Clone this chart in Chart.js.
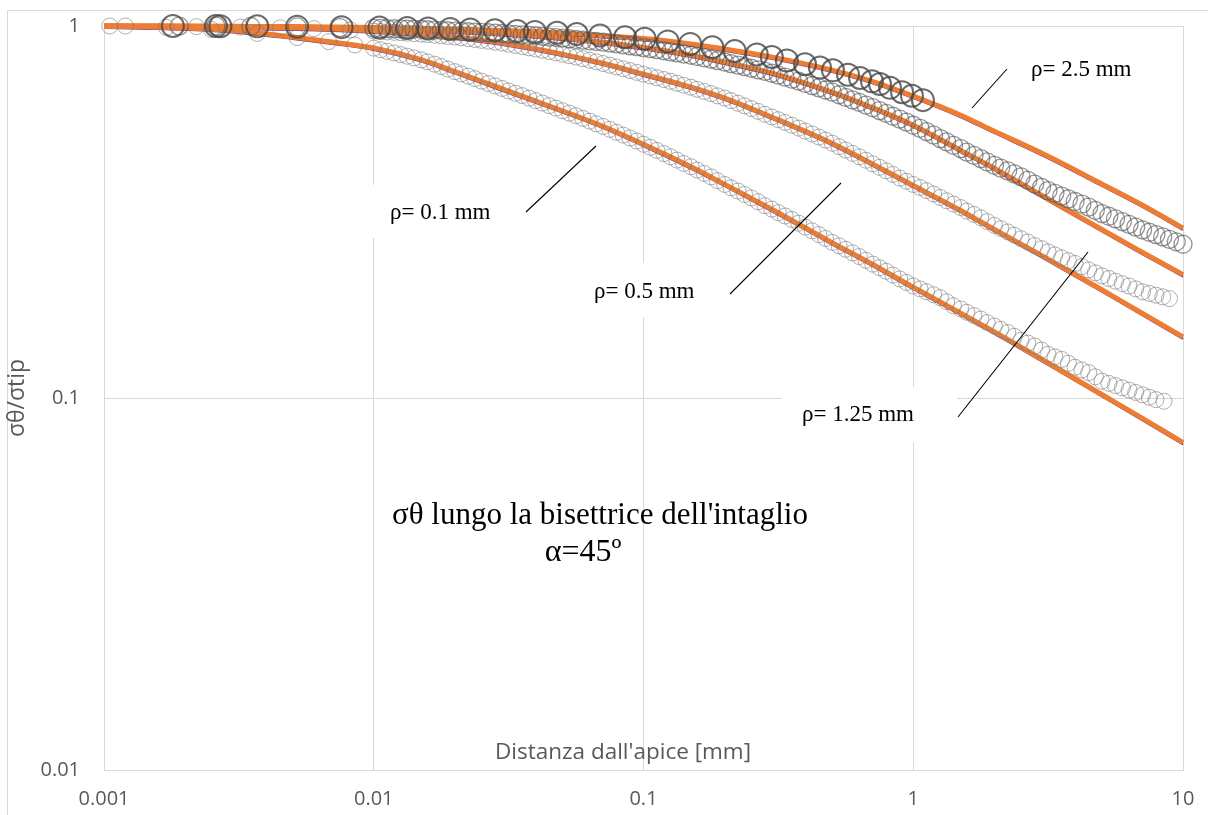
<!DOCTYPE html>
<html>
<head>
<meta charset="utf-8">
<script src="https://cdn.jsdelivr.net/npm/chart.js@4.4.1/dist/chart.umd.min.js"></script>
<style>
  html, body { margin: 0; padding: 0; background: #ffffff; }
  #wrap { position: relative; width: 1208px; height: 815px; }
  canvas { display: block; }
</style>
</head>
<body>
<div id="wrap"><canvas id="c" width="1208" height="815"></canvas></div>
<script>
// ---------------- DATA ----------------
const xTickValues = [0.001, 0.01, 0.1, 1, 10];
const xTickLabels = ['0.001', '0.01', '0.1', '1', '10'];
const yTickValues = [0.01, 0.1, 1];
const yTickLabels = ['0.01', '0.1', '1'];

const xAxisTitle = "Distanza dall'apice [mm]";
const yAxisTitle = 'σθ/σtip';
const titleLines = ["σθ lungo la bisettrice dell'intaglio", 'α=45º'];
const seriesNames = ['ρ= 0.1 mm', 'ρ= 0.5 mm', 'ρ= 1.25 mm', 'ρ= 2.5 mm'];

// analytical curves (orange) and companion curves (purple)
const lineX = [0.001,0.0015,0.002,0.003,0.005,0.007,0.01,0.015,0.02,0.03,0.05,0.07,0.1,0.15,0.2,0.3,0.5,0.7,1,1.5,2,3,5,7,10];
const orange01  = [1.0,0.9938,0.9877,0.9725,0.934,0.9055,0.8723,0.8117,0.7541,0.6776,0.5918,0.539,0.4808,0.4182,0.3752,0.3211,0.2617,0.2297,0.1985,0.169,0.1506,0.127,0.1022,0.0886,0.0759];
const orange05  = [1.0,0.9988,0.9969,0.9938,0.9877,0.9816,0.9694,0.9516,0.934,0.9,0.8403,0.7951,0.7424,0.6847,0.6399,0.5685,0.4838,0.4272,0.3727,0.3192,0.2837,0.2414,0.1954,0.1695,0.146];
const orange125 = [1.0,0.9994,0.9988,0.9969,0.9938,0.9907,0.9858,0.9785,0.9694,0.9545,0.9282,0.9055,0.875,0.8352,0.7997,0.7468,0.664,0.6048,0.5411,0.4632,0.4144,0.3503,0.2837,0.2474,0.2146];
const orange25  = [1.0,1.0,0.9994,0.9981,0.9963,0.9938,0.9907,0.9858,0.9816,0.9725,0.9575,0.9428,0.9254,0.8944,0.8671,0.8249,0.7613,0.7108,0.6477,0.5755,0.5212,0.4546,0.3762,0.3313,0.2863];
const purple01  = [0.988,0.982,0.976,0.961,0.923,0.895,0.862,0.802,0.745,0.669,0.585,0.533,0.475,0.413,0.371,0.317,0.2586,0.2269,0.1961,0.167,0.1488,0.1255,0.101,0.0875,0.075];
const purple05  = [0.988,0.987,0.985,0.982,0.976,0.970,0.958,0.940,0.923,0.889,0.830,0.786,0.7335,0.6765,0.632,0.5617,0.478,0.422,0.3682,0.3154,0.2803,0.2385,0.1931,0.1675,0.1442];
const purple125 = [0.988,0.9874,0.9868,0.985,0.982,0.979,0.974,0.967,0.958,0.943,0.917,0.895,0.8645,0.825,0.790,0.738,0.656,0.5975,0.5346,0.4576,0.4094,0.3461,0.2803,0.2444,0.212];
const purple25  = [0.988,0.988,0.9874,0.986,0.984,0.982,0.979,0.974,0.970,0.961,0.946,0.9315,0.914,0.8837,0.8567,0.815,0.752,0.7023,0.640,0.5686,0.515,0.4491,0.3717,0.3273,0.2829];

// FEM results (hollow circles): node abscissae
const femXDense = [0.01,0.0112,0.0126,0.0141,0.0158,0.0178,0.02,0.0224,0.0251,0.0282,0.0316,0.0355,0.0398,0.0447,0.0501,0.0562,0.0631,0.0708,0.0794,0.0891,
  0.1,0.112,0.126,0.141,0.158,0.178,0.2,0.224,0.251,0.282,0.316,0.355,0.398,0.447,0.501,0.562,0.631,0.708,0.794,0.891,
  1,1.12,1.26,1.41,1.58,1.78,2,2.24,2.51,2.82,3.16,3.55,3.98,4.47,5.01,5.62,6.31,7.08,7.94,8.91,10];
const femXMid = [0.0106,0.0119,0.0133,0.015,0.0168,0.0188,0.0211,0.0237,0.0266,0.0299,0.0335,0.0376,0.0422,0.0473,0.0531,0.0596,0.0668,0.075,0.0841,0.0944,
  0.106,0.119,0.133,0.15,0.168,0.188,0.211,0.237,0.266,0.299,0.335,0.376,0.422,0.473,0.531,0.596,0.668,0.75,0.841,0.944,
  1.06,1.19,1.33,1.5,1.68,1.88,2.11,2.37,2.66,2.99,3.35,3.76,4.22,4.73,5.31,5.96,6.68,7.5,8.41,9.44];

// rho = 0.1 mm
const fem01XLeft = [0.00105,0.0017,0.0025,0.0037,0.0052,0.0068,0.0085];
const fem01XEnd  = [8.5];
const fem01Y = [1.0,0.992,0.979,0.955,0.931,0.908,0.889,
  0.872,0.855,0.838,0.821,0.801,0.778,0.754,0.733,0.711,0.690,0.669,0.650,0.630,0.611,0.592,0.574,0.555,0.537,0.518,0.500,
  0.481,0.463,0.445,0.427,0.410,0.393,0.375,0.360,0.345,0.329,0.315,0.302,0.288,0.275,0.262,0.251,0.240,0.229,0.219,0.209,
  0.200,0.193,0.186,0.177,0.170,0.163,0.156,0.150,0.143,0.138,0.131,0.127,0.121,0.117,0.111,0.108,0.105,0.102,0.099,
  0.098];
const fem01YMid = [0.8635,0.8465,0.8295,0.811,0.7895,0.766,0.7435,0.722,0.7005,0.6795,0.6595,0.640,0.6205,0.6015,0.583,0.5645,0.546,0.5275,0.509,0.4905,
  0.472,0.454,0.436,0.4185,0.4015,0.384,0.3675,0.3525,0.337,0.322,0.3085,0.295,0.2815,0.2685,0.2565,0.2455,0.2345,0.224,0.214,0.2045,
  0.1965,0.1895,0.1815,0.1735,0.1665,0.1595,0.153,0.1465,0.1405,0.1345,0.129,0.124,0.119,0.114,0.1095,0.1065,0.1035,0.1005];

// rho = 0.5 mm
const fem05XLeft = [0.0012,0.0022,0.0032,0.0045,0.006,0.0082];
const fem05Y = [1.0,0.996,0.993,0.989,0.984,0.976,
  0.969,0.964,0.959,0.954,0.948,0.941,0.934,0.925,0.915,0.905,0.894,0.880,0.867,0.854,0.840,0.825,0.809,0.793,0.776,0.759,
  0.742,0.726,0.710,0.693,0.676,0.658,0.640,0.620,0.600,0.579,0.560,0.541,0.522,0.503,0.484,0.464,0.445,0.426,0.408,0.390,
  0.375,0.361,0.346,0.332,0.318,0.305,0.291,0.2795,0.268,0.257,0.247,0.238,0.230,0.221,0.213,0.206,0.200,0.193,0.189,0.185];
const fem05YMid = [0.9665,0.9615,0.9565,0.951,0.9445,0.9375,0.9295,0.920,0.910,0.8995,0.887,0.8735,0.8605,0.847,0.8325,0.817,0.801,0.7845,0.7675,0.7505,
  0.734,0.718,0.7015,0.6845,0.667,0.649,0.630,0.610,0.5895,0.5695,0.5505,0.5315,0.5125,0.4935,0.474,0.4545,0.4355,0.417,0.399,0.3825,
  0.368,0.3535,0.339,0.325,0.3115,0.298,0.2853,0.2738,0.2625,0.252,0.2425,0.234,0.2255,0.217,0.2095,0.203,0.1965,0.191,0.187];

// rho = 1.25 mm
const fem125XLeft = [0.0019,0.0026,0.0035,0.0052,0.0075];
const fem125Y = [0.9993,0.999,0.997,0.994,0.99,
  0.986,0.984,0.982,0.980,0.977,0.973,0.969,0.965,0.961,0.957,0.952,0.946,0.940,0.934,0.928,0.920,0.9125,0.9045,0.895,0.885,
  0.875,0.864,0.852,0.841,0.828,0.814,0.800,0.785,0.770,0.755,0.738,0.720,0.701,0.682,0.664,0.643,0.623,0.603,0.582,0.562,
  0.541,0.520,0.498,0.4775,0.458,0.440,0.422,0.408,0.393,0.376,0.361,0.349,0.3375,0.326,0.313,0.303,0.293,0.283,0.275,0.267,0.259];
const fem125YMid = [0.985,0.983,0.981,0.9785,0.975,0.971,0.967,0.963,0.959,0.9545,0.949,0.943,0.937,0.931,0.924,0.916,0.9085,0.8998,0.890,0.880,
  0.8695,0.858,0.8465,0.8345,0.821,0.807,0.7925,0.7775,0.7625,0.7465,0.729,0.7105,0.6915,0.673,0.6535,0.633,0.613,0.5925,0.572,0.5515,
  0.5305,0.509,0.488,0.468,0.449,0.431,0.415,0.4005,0.3845,0.3685,0.355,0.343,0.332,0.3195,0.308,0.298,0.288,0.279,0.271,0.263];

// rho = 2.5 mm
const fem25X = [0.0018,0.0026,0.0027,0.0037,0.0052,0.0076,0.0105,0.0133,0.0159,0.0192,0.0228,0.0281,0.034,0.0396,0.0478,0.0566,0.069,0.0854,0.101,0.123,0.149,0.18,0.218,0.263,0.299,0.34,0.397,0.451,0.504,0.573,0.635,0.703,0.753,0.82,0.909,0.989,1.086];
const fem25Y = [1.0,0.9994,0.999,0.998,0.996,0.993,0.990,0.987,0.985,0.982,0.978,0.974,0.969,0.964,0.959,0.952,0.943,0.933,0.924,0.909,0.895,0.877,0.856,0.838,0.825,0.808,0.789,0.773,0.760,0.740,0.725,0.710,0.698,0.682,0.664,0.649,0.632];

// ---------------- BUILD ----------------
function pts(xs, ys) { return ys.map((y, i) => ({ x: xs[i], y: y })); }

const fem01Pts = pts(fem01XLeft.concat(femXDense.slice(0, 59), fem01XEnd), fem01Y).concat(pts(femXMid, fem01YMid));
const fem05Pts = pts(fem05XLeft.concat(femXDense.slice(0, 60)), fem05Y).concat(pts(femXMid, fem05YMid));
const fem125Pts = pts(fem125XLeft.concat(femXDense), fem125Y).concat(pts(femXMid, fem125YMid));
const fem25Pts = pts(fem25X, fem25Y);

function circles(label, data, r, color, w) {
  return { label, data, showLine: false, pointStyle: 'circle', pointRadius: r,
    pointBackgroundColor: 'rgba(0,0,0,0)', pointBorderColor: color, pointBorderWidth: w, clip: false };
}
function curve(label, ys, color, w) {
  return { label, data: pts(lineX, ys), showLine: true, borderColor: color, borderWidth: w,
    pointRadius: 0, cubicInterpolationMode: 'monotone', fill: false, clip: false };
}

const ORANGE = '#ED7D31', PURPLE = '#7030A0';
const datasets = [
  circles(seriesNames[3] + ' FEM', fem25Pts, 11, 'rgba(70,70,70,0.8)', 2),
  circles(seriesNames[2] + ' FEM', fem125Pts, 9, 'rgba(90,90,90,0.65)', 1.3),
  circles(seriesNames[1] + ' FEM', fem05Pts, 8, 'rgba(125,125,125,0.62)', 1),
  circles(seriesNames[0] + ' FEM', fem01Pts, 8, 'rgba(125,125,125,0.62)', 1),
  curve(seriesNames[3], orange25, ORANGE, 5),
  curve(seriesNames[2], orange125, ORANGE, 5),
  curve(seriesNames[1], orange05, ORANGE, 5),
  curve(seriesNames[0], orange01, ORANGE, 5),
  curve(seriesNames[3] + ' b', purple25, PURPLE, 2),
  curve(seriesNames[2] + ' b', purple125, PURPLE, 2),
  curve(seriesNames[1] + ' b', purple05, PURPLE, 2),
  curve(seriesNames[0] + ' b', purple01, PURPLE, 2)
];

// annotation layout (pixel positions on canvas)
const labelBoxes = [
  [365, 185, 150, 53],
  [575, 263, 140, 54],
  [782, 387, 175, 55],
  [1012, 42, 150, 56]
];
const labelPos = [[390, 213], [594, 292], [802, 415], [1031, 70]];
const leaders = [[526, 212, 596, 146], [730, 294, 841, 183], [958, 417, 1088, 252], [972, 108, 1007, 69]];

const overlay = {
  id: 'overlay',
  beforeDraw(chart) {
    const ctx = chart.ctx;
    ctx.save();
    ctx.strokeStyle = '#d9d9d9';
    ctx.lineWidth = 1;
    ctx.beginPath();
    ctx.moveTo(7.5, 815); ctx.lineTo(7.5, 10.5); ctx.lineTo(1208, 10.5);
    ctx.stroke();
    ctx.restore();
  },
  beforeDatasetsDraw(chart) {
    const ctx = chart.ctx;
    ctx.save();
    ctx.fillStyle = '#ffffff';
    labelBoxes.forEach(b => ctx.fillRect(b[0], b[1], b[2], b[3]));
    ctx.fillStyle = '#595959';
    ctx.font = '22.5px "Open Sans"';
    ctx.textAlign = 'center';
    ctx.textBaseline = 'middle';
    ctx.fillText(xAxisTitle, 623, 753);
    ctx.restore();
  },
  afterDatasetsDraw(chart) {
    const ctx = chart.ctx;
    ctx.save();
    ctx.strokeStyle = '#000000';
    ctx.lineWidth = 1.1;
    leaders.forEach(l => { ctx.beginPath(); ctx.moveTo(l[0], l[1]); ctx.lineTo(l[2], l[3]); ctx.stroke(); });
    ctx.fillStyle = '#000000';
    ctx.font = '23px "Liberation Serif"';
    ctx.textAlign = 'left';
    ctx.textBaseline = 'middle';
    seriesNames.forEach((n, i) => ctx.fillText(n, labelPos[i][0], labelPos[i][1]));
    ctx.font = '31px "Liberation Serif"';
    ctx.textAlign = 'center';
    ctx.textBaseline = 'alphabetic';
    ctx.fillText(titleLines[0], 600, 524);
    ctx.font = '32px "Liberation Serif"';
    ctx.fillText(titleLines[1], 583, 561);
    ctx.restore();
  }
};

const tickFont = { family: '"Open Sans"', size: 20 };

new Chart(document.getElementById('c'), {
  type: 'scatter',
  data: { datasets },
  options: {
    responsive: false,
    animation: false,
    events: [],
    layout: { autoPadding: false, padding: { top: 26, right: 25, left: 0, bottom: 0 } },
    plugins: { legend: { display: false }, tooltip: { enabled: false }, title: { display: false } },
    scales: {
      x: {
        type: 'logarithmic', min: 0.001, max: 10, position: 'bottom',
        afterBuildTicks: s => { s.ticks = xTickValues.map(v => ({ value: v })); },
        afterFit: s => { s.height = 45; s.paddingLeft = 0; s.paddingRight = 0; },
        ticks: { callback: (v, i) => xTickLabels[i], color: '#595959', font: tickFont, padding: 17, maxRotation: 0, autoSkip: false },
        grid: { color: '#d9d9d9', lineWidth: 1, drawTicks: false },
        border: { color: '#d9d9d9' },
        title: { display: false }
      },
      y: {
        type: 'logarithmic', min: 0.01, max: 1, position: 'left',
        afterBuildTicks: s => { s.ticks = yTickValues.map(v => ({ value: v })); },
        afterFit: s => { s.width = 104; s.paddingTop = 0; s.paddingBottom = 0; },
        ticks: { callback: (v, i) => yTickLabels[i], color: '#595959', font: tickFont, padding: 24, autoSkip: false },
        grid: { color: '#d9d9d9', lineWidth: 1, drawTicks: false },
        border: { color: '#d9d9d9' },
        title: { display: true, text: yAxisTitle, color: '#595959', font: { family: '"Open Sans"', size: 23 }, padding: { top: 4, bottom: 4 } }
      }
    }
  },
  plugins: [overlay]
});
</script>
</body>
</html>
